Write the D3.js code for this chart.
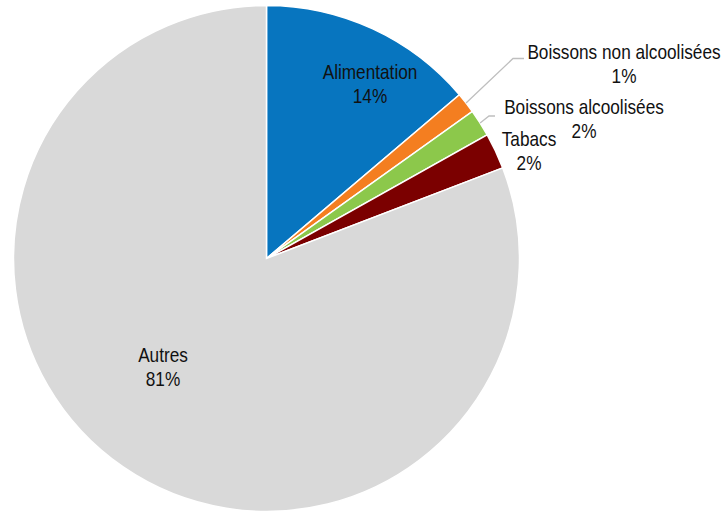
<html lang="fr">
<head>
  <meta charset="UTF-8">
  <title>Répartition</title>
  <script src="https://d3js.org/d3.v7.min.js"></script>
</head>
<style>
  body { margin: 0; background: #fff; }
  text { font-family: "Liberation Sans", Arial, sans-serif; font-size: 21px; fill: #111; }
</style>
<body>
  <svg class="piesvg" width="727" height="511"></svg>
  <script>
    // slice data (share of total, %)
    const categories = ['Alimentation', 'Boissons non alcoolisées', 'Boissons alcoolisées', 'Tabacs', 'Autres'];
    const values = [13.8, 1.33, 1.74, 2.3, 80.83];
    const pctLabels = ['14%', '1%', '2%', '2%', '81%'];
    const colors = ['#0775BF', '#F47E20', '#8CC84B', '#7B0000', '#D9D9D9'];

    const svg = d3.select('svg.piesvg');
    const cx = 266.5, cy = 258.5, radius = 253;

    const g = svg.append('g').attr('transform', `translate(${cx},${cy})`);

    const pie = d3.pie().sort(null).value(d => d.value);
    const arc = d3.arc().innerRadius(0).outerRadius(radius);

    const data = categories.map((c, i) => ({ name: c, value: values[i], pct: pctLabels[i], color: colors[i] }));
    const arcs = pie(data);

    g.selectAll('path.slice')
      .data(arcs)
      .enter()
      .append('path')
      .attr('class', 'slice')
      .attr('d', arc)
      .attr('fill', d => d.data.color)
      .attr('stroke', '#fff')
      .attr('stroke-width', 1.5);

    // label placement (page coords, centre x + baseline of first line)
    const labelPos = [
      { x: 370, y: 79 },
      { x: 624, y: 59 },
      { x: 584, y: 114 },
      { x: 529, y: 146 },
      { x: 163, y: 362 }
    ];
    // leader lines: bend point and end point for the small slices
    const leaders = {
      1: [[513, 58.5], [524, 58.5]],
      2: [[489, 116], [495, 116]]
    };

    const lineGap = 24;
    const narrow = 0.82; // no Arial Narrow here, squeeze Liberation Sans instead

    arcs.forEach((a, i) => {
      if (leaders[i]) {
        const mid = (a.startAngle + a.endAngle) / 2;
        const sx = cx + radius * Math.sin(mid);
        const sy = cy - radius * Math.cos(mid);
        const pts = [[sx, sy]].concat(leaders[i]);
        svg.append('path')
          .attr('d', d3.line()(pts))
          .attr('fill', 'none')
          .attr('stroke', '#BFBFBF')
          .attr('stroke-width', 1.3);
      }
      const p = labelPos[i];
      const t = svg.append('text')
        .attr('transform', `translate(${p.x},${p.y}) scale(${narrow},1)`)
        .attr('text-anchor', 'middle');
      t.append('tspan').attr('x', 0).attr('y', 0).text(a.data.name);
      t.append('tspan').attr('x', 0).attr('y', lineGap).text(a.data.pct);
    });
  </script>
</body>
</html>
